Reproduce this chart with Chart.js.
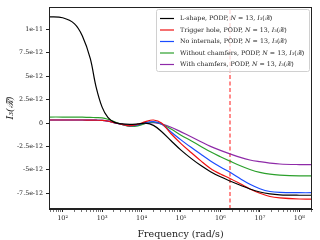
<!DOCTYPE html>
<html>
<head>
<meta charset="utf-8">
<script src="https://cdn.jsdelivr.net/npm/chart.js@4.4.1/dist/chart.umd.min.js"></script>
<style>
  html, body { margin: 0; padding: 0; background: #fff; }
  canvas { display: block; }
</style>
</head>
<body>
<canvas id="chart" width="320" height="240"></canvas>
<script>
// frequencies (rad/s)
const freq = [45, 100, 200, 316, 500, 700, 1000, 1400, 2000, 3200, 5000, 8000, 12600, 20000,
  32000, 56000, 1e5, 1.8e5, 3.2e5, 5.6e5, 1e6, 1.8e6, 3.2e6, 5.6e6, 1e7, 1.8e7, 3.2e7, 1e8, 2.1e8];

// I3 values, in units of 1e-12
const lShape = [11.35, 11.25, 10.6, 9.3, 6.9, 3.9, 1.7, 0.6, 0.1, -0.1, -0.15, -0.1, -0.02, -0.25,
  -0.9, -1.9, -2.9, -3.78, -4.55, -5.2, -5.75, -6.22, -6.65, -7.05, -7.37, -7.57, -7.67, -7.72, -7.72];
const triggerHole = [0.32, 0.32, 0.32, 0.32, 0.31, 0.3, 0.28, 0.2, 0.05, -0.15, -0.3, -0.15, 0.15, 0.32,
  0.0, -1.15, -2.2, -3.15, -4.05, -4.85, -5.45, -5.95, -6.5, -7.05, -7.5, -7.85, -8.0, -8.12, -8.13];
const noInternals = [0.32, 0.32, 0.32, 0.32, 0.31, 0.3, 0.28, 0.2, 0.05, -0.15, -0.3, -0.2, 0.05, 0.14,
  -0.1, -0.95, -1.8, -2.6, -3.35, -4.05, -4.7, -5.3, -5.95, -6.55, -7.02, -7.32, -7.42, -7.45, -7.45];
const withoutChamfers = [0.64, 0.64, 0.63, 0.62, 0.6, 0.58, 0.55, 0.4, 0.15, -0.15, -0.35, -0.3, -0.05, 0.08,
  -0.1, -0.65, -1.3, -1.9, -2.5, -3.08, -3.6, -4.1, -4.57, -4.97, -5.28, -5.47, -5.56, -5.65, -5.66];
const withChamfers = [0.32, 0.32, 0.32, 0.32, 0.31, 0.3, 0.28, 0.2, 0.05, -0.12, -0.25, -0.2, -0.05, 0.05,
  -0.1, -0.45, -0.95, -1.47, -2.0, -2.5, -2.93, -3.32, -3.68, -3.95, -4.13, -4.28, -4.38, -4.44, -4.45];

const names = ['L-shape', 'Trigger hole', 'No internals', 'Without chamfers', 'With chamfers'];
const colors = ['#000000', '#ee1111', '#1a4cff', '#2ca02c', '#8e2aa8'];
const series = [lShape, triggerHole, noInternals, withoutChamfers, withChamfers];

const markerFreq = 1.75e6; // red dashed line
const yTickValues = [-7.5, -5, -2.5, 0, 2.5, 5, 7.5, 10];
const yTickLabels = ['-7.5e-12', '-5e-12', '-2.5e-12', '0', '2.5e-12', '5e-12', '7.5e-12', '1e-11'];
const xMin = 45, xMax = 2.1e8;
const yMin = -9.19, yMax = 12.4;

const sup = { '0': '⁰', '1': '¹', '2': '²', '3': '³', '4': '⁴', '5': '⁵', '6': '⁶', '7': '⁷', '8': '⁸', '9': '⁹' };
const isPow = (v) => Math.abs(Math.log10(v) - Math.round(Math.log10(v))) < 1e-6;

const datasets = series.map((s, i) => ({
  label: names[i],
  data: freq.map((f, j) => ({ x: f, y: s[j] })),
  borderColor: colors[i],
  borderWidth: 1.2,
  pointRadius: 0,
  tension: 0.35,
  fill: false,
}));
datasets.push({
  label: 'marker',
  hideLegend: true,
  data: [{ x: markerFreq, y: yMin }, { x: markerFreq, y: yMax }],
  borderColor: 'rgba(255, 60, 60, 0.85)',
  borderWidth: 1.4,
  borderDash: [4, 2.5],
  pointRadius: 0,
});

const serif = '"DejaVu Serif", "Liberation Serif", serif';

const frameLegend = {
  id: 'frameLegend',
  afterDraw(chart) {
    const { ctx, chartArea: a } = chart;
    ctx.save();
    ctx.strokeStyle = '#222';
    ctx.lineWidth = 1;
    ctx.strokeRect(Math.round(a.left) + 0.5, Math.round(a.top) + 0.5,
      Math.round(a.right - a.left) - 1, Math.round(a.bottom - a.top) - 1);

    // legend box, upper right
    const bx = 156.5, by = 9.5, bw = 153, bh = 62;
    ctx.fillStyle = 'rgba(255,255,255,0.8)';
    ctx.strokeStyle = '#d0d0d0';
    ctx.beginPath();
    ctx.roundRect(bx, by, bw, bh, 2);
    ctx.fill();
    ctx.stroke();

    ctx.textBaseline = 'middle';
    chart.data.datasets.filter(d => !d.hideLegend).forEach((d, i) => {
      const y = 18.5 + i * 11.5;
      ctx.strokeStyle = d.borderColor;
      ctx.lineWidth = 1.2;
      ctx.beginPath();
      ctx.moveTo(160, y);
      ctx.lineTo(174, y);
      ctx.stroke();
      const segs = [[d.label + ', PODP, ', false], ['N', true], [' = 13, ', false], ['I', true], ['₃(ℛ̃)', false]];
      let x = 180;
      ctx.fillStyle = '#222';
      segs.forEach(([t, it]) => {
        ctx.font = (it ? 'italic ' : '') + '6.3px ' + serif;
        ctx.fillText(t, x, y);
        x += ctx.measureText(t).width;
      });
    });
    ctx.restore();
  }
};

new Chart(document.getElementById('chart'), {
  type: 'line',
  data: { datasets },
  options: {
    responsive: false,
    animation: false,
    devicePixelRatio: 1,
    layout: { padding: { top: 7, right: 8, left: 0, bottom: 0 } },
    plugins: { legend: { display: false }, tooltip: { enabled: false } },
    scales: {
      x: {
        type: 'logarithmic',
        min: xMin,
        max: xMax,
        afterFit: (s) => { s.height = 31; },
        afterBuildTicks: (s) => {
          const t = [];
          for (let e = 1; e <= 8; e++) {
            for (let m = 1; m <= 9; m++) {
              const v = m * Math.pow(10, e);
              if (v >= xMin && v <= xMax) t.push({ value: v });
            }
          }
          s.ticks = t;
        },
        ticks: {
          autoSkip: false,
          maxRotation: 0,
          padding: 2,
          color: '#222',
          font: { family: serif, size: 6.5 },
          callback: (v) => isPow(v) ? '10' + String(Math.round(Math.log10(v))).split('').map(c => sup[c]).join('') : '',
        },
        grid: {
          drawOnChartArea: false,
          drawTicks: true,
          tickLength: 3,
          tickColor: (c) => (c.tick && isPow(c.tick.value)) ? '#222' : '#777',
        },
        border: { display: true, color: '#222' },
        title: {
          display: true,
          text: 'Frequency (rad/s)',
          color: '#222',
          font: { family: serif, size: 9.5 },
          padding: { top: 0, bottom: 0 },
        },
      },
      y: {
        type: 'linear',
        min: yMin,
        max: yMax,
        afterFit: (s) => { s.width = 49; },
        afterBuildTicks: (s) => { s.ticks = yTickValues.map(v => ({ value: v })); },
        ticks: {
          padding: 3,
          color: '#222',
          font: { family: serif, size: 6.3 },
          callback: (v) => yTickLabels[yTickValues.indexOf(v)],
        },
        grid: {
          drawOnChartArea: false,
          drawTicks: true,
          tickLength: 3,
          tickColor: '#222',
        },
        border: { display: true, color: '#222' },
        title: {
          display: true,
          text: 'I₃(ℛ̃)',
          color: '#222',
          font: { family: serif, size: 9.5, style: 'italic' },
          padding: { top: 5, bottom: 0 },
        },
      },
    },
  },
  plugins: [frameLegend],
});
</script>
</body>
</html>
